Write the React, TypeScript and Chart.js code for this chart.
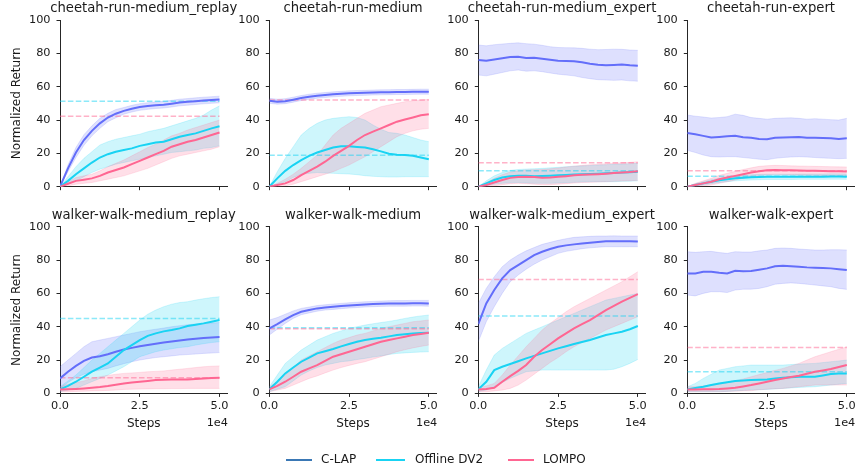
import React, { useEffect, useRef } from "react";
import { Chart, registerables } from "chart.js";

Chart.register(...registerables);

// ---------------- data ----------------
const STEPS = [0, 0.25, 0.5, 0.75, 1, 1.25, 1.5, 1.75, 2, 2.25, 2.5, 2.75, 3, 3.25, 3.5, 3.75, 4, 4.25, 4.5, 4.75, 5];
const X_TICKS = [0, 2.5, 5];
const Y_TICKS = [0, 20, 40, 60, 80, 100];
const METHODS = ["C-LAP", "Offline DV2", "LOMPO"];
const TITLES = [
  "cheetah-run-medium_replay",
  "cheetah-run-medium",
  "cheetah-run-medium_expert",
  "cheetah-run-expert",
  "walker-walk-medium_replay",
  "walker-walk-medium",
  "walker-walk-medium_expert",
  "walker-walk-expert",
];
// dashed reference levels per panel
const DV2_REF = [51.2, 18.8, 9.6, 6.2, 45, 39.4, 46.4, 13];
const LOMPO_REF = [42.2, 52, 14.4, 9.6, 9.4, 38.8, 68.4, 27.6];

// cheetah-run-medium_replay
const CRMR_CLAP = [0, 11, 20.5, 28, 33.5, 38, 41.5, 43.8, 45.5, 46.8, 47.8, 48.4, 48.9, 49.2, 49.8, 50.5, 50.9, 51.3, 51.7, 52, 52.3];
const CRMR_CLAP_LO = [0, 9, 17.5, 24.8, 30.5, 35, 39, 41.3, 43.5, 44.8, 45.8, 46.4, 46.9, 47.2, 47.8, 48.5, 48.9, 49.3, 49.7, 50, 50.3];
const CRMR_CLAP_HI = [0, 13, 23.5, 31.2, 36.5, 41, 44, 46.3, 47.5, 48.8, 49.8, 50.4, 50.9, 51.2, 51.8, 52.5, 52.9, 53.3, 53.7, 54, 54.3];
const CRMR_DV2 = [0, 3.5, 7.5, 11, 14.5, 17.5, 19.5, 21, 22, 23, 24.5, 25.5, 26.5, 27, 28.5, 30, 31, 32, 33.5, 35, 36.3];
const CRMR_DV2_LO = [0, 1.5, 3.5, 6, 8.5, 10.5, 12, 13.5, 14.5, 15.5, 16.5, 17.5, 18.5, 19.5, 20.5, 21, 21.5, 22, 23, 23.5, 24.5];
const CRMR_DV2_HI = [0, 6, 12, 17, 21, 25, 27, 28.5, 29.5, 30.5, 31.5, 33, 34, 35, 36.5, 38, 39.5, 41, 43, 46, 48.5];
const CRMR_LOMPO = [0, 1.8, 3.5, 4.2, 5, 6.5, 8.5, 10, 11.5, 13.5, 15.5, 17.5, 19.5, 21.5, 24, 25.5, 27, 28, 29.5, 31, 32.5];
const CRMR_LOMPO_LO = [0, 0.5, 1.5, 2, 2.5, 3.5, 4.5, 5.5, 6.5, 8, 9.5, 11, 13, 15, 17, 18.5, 19.5, 20.5, 21.5, 22.5, 24];
const CRMR_LOMPO_HI = [0, 3, 5.5, 6.5, 7.5, 9.5, 12, 14, 16, 18.5, 21, 23.5, 25.5, 28, 30.5, 32, 34, 35.5, 37, 38.5, 40];

// cheetah-run-medium
const CRM_CLAP = [51.5, 51, 51.3, 52.2, 53.2, 54, 54.6, 55, 55.4, 55.7, 56, 56.2, 56.3, 56.5, 56.6, 56.7, 56.8, 56.8, 56.9, 57, 57];
const CRM_CLAP_LO = [50, 49.5, 49.8, 50.7, 51.7, 52.5, 53.1, 53.5, 53.9, 54.2, 54.5, 54.7, 54.8, 55, 55.1, 55.2, 55.3, 55.3, 55.4, 55.5, 55.5];
const CRM_CLAP_HI = [53, 52.5, 52.8, 53.7, 54.7, 55.5, 56.1, 56.5, 56.9, 57.2, 57.5, 57.7, 57.8, 58, 58.1, 58.2, 58.3, 58.3, 58.4, 58.5, 58.5];
const CRM_DV2 = [0, 5, 9.5, 13, 16, 18.5, 20.5, 22, 23.5, 24.3, 24.2, 23.8, 23.5, 22.5, 21.2, 19.8, 19.2, 19, 18.5, 17.5, 16.5];
const CRM_DV2_LO = [0, 1.5, 3, 5.5, 7.5, 8, 8.5, 8.2, 8, 7.8, 7.6, 7.2, 6.6, 6.2, 6, 5.8, 5.8, 6, 6, 6, 6];
const CRM_DV2_HI = [0, 9, 17, 24, 31, 35, 38, 40, 41, 41.5, 42, 41.5, 40, 37, 34.5, 32.5, 32, 31, 29.5, 28, 27];
const CRM_LOMPO = [0, 1, 2, 4, 7, 9.5, 12, 15, 18.5, 21.5, 24.5, 28, 31, 33, 35, 37, 39, 40.3, 41.5, 42.8, 43.5];
const CRM_LOMPO_LO = [0, 0, 0.5, 1.5, 3, 4.5, 6, 7.5, 9, 11, 13, 15.5, 18, 21, 24, 27, 30, 32, 33.5, 34.5, 35];
const CRM_LOMPO_HI = [0, 2, 4.5, 7.5, 11, 15, 19, 25, 31, 35, 38, 41, 44, 46, 48, 49, 50, 51, 51.6, 52, 52.4];

// cheetah-run-medium_expert
const CRME_CLAP = [76, 75.5, 76.3, 77, 77.8, 78, 77.2, 77.4, 76.8, 76.2, 75.6, 75.4, 75.2, 74.6, 73.8, 73.2, 72.8, 73, 73.3, 72.8, 72.5];
const CRME_CLAP_LO = [67, 66.5, 67.5, 68.5, 69.5, 70, 69.3, 69.5, 69, 68.2, 67.5, 67, 66.5, 65.5, 64.8, 64.2, 64, 63.8, 64, 63.5, 63.3];
const CRME_CLAP_HI = [85, 84.5, 85.2, 85.6, 86, 86.3, 85.8, 85.5, 84.8, 84, 83.5, 83.4, 83.3, 83, 82.5, 82.2, 82.3, 82.5, 82.4, 82, 81.8];
const CRME_DV2 = [0, 2, 4, 5.5, 6.3, 6.5, 6.5, 6.3, 6.4, 6.6, 6.8, 7, 7.3, 7.5, 7.6, 7.8, 8, 8.2, 8.5, 8.7, 9];
const CRME_DV2_LO = [0, 0.5, 1.5, 2, 2.3, 2.5, 2.2, 2, 2, 2, 2.2, 2.4, 2.6, 2.8, 3, 3, 3, 3, 3.2, 3.3, 3.5];
const CRME_DV2_HI = [0, 3.5, 6.5, 8.5, 9.8, 10.3, 10.6, 10.8, 11, 11.3, 11.6, 12, 12.3, 12.5, 12.7, 13, 13.2, 13.4, 13.6, 13.8, 14];
const CRME_LOMPO = [0, 1, 2.5, 4, 5.3, 5.8, 6, 5.8, 5.4, 5.5, 5.9, 6.3, 6.8, 7.2, 7.3, 7.5, 7.8, 8.2, 8.5, 8.8, 9.3];
const CRME_LOMPO_LO = [0, 0, 0.5, 1.2, 1.8, 2, 1.8, 1.5, 1.2, 1.2, 1.5, 1.8, 2.2, 2.5, 2.6, 2.8, 3, 3.2, 3.4, 3.6, 3.8];
const CRME_LOMPO_HI = [0, 2.5, 5, 7.2, 8.8, 9.5, 10, 10.2, 10.3, 10.7, 11.2, 11.8, 12.3, 12.8, 13.2, 13.5, 13.8, 14, 14.3, 14.6, 15];

// cheetah-run-expert
const CRE_CLAP = [32.2, 31.5, 30.5, 29.5, 29.8, 30.2, 30.5, 29.6, 29.3, 28.6, 28.4, 29.3, 29.5, 29.7, 29.8, 29.4, 29.3, 29.2, 29, 28.6, 29];
const CRE_CLAP_LO = [21.8, 20.5, 19, 18, 17.8, 18, 18, 17.5, 17, 16.5, 16.2, 17, 17.5, 17.8, 18, 17.8, 17.5, 17.2, 17, 16.8, 17];
const CRE_CLAP_HI = [43, 42.3, 41.8, 41.2, 41.5, 42, 43.5, 42.8, 41.5, 41, 40.5, 41, 41.2, 41.3, 41, 40.5, 40.8, 40.5, 40.2, 40, 41];
const CRE_DV2 = [0, 1, 2, 3, 3.8, 4.4, 5, 5.4, 5.6, 5.8, 5.9, 5.9, 5.9, 5.9, 6, 6, 6, 6, 6.1, 6.1, 6];
const CRE_DV2_LO = [0, 0.3, 1, 1.8, 2.5, 3, 3.5, 3.8, 4, 4.2, 4.3, 4.3, 4.3, 4.3, 4.4, 4.4, 4.4, 4.4, 4.5, 4.5, 4.4];
const CRE_DV2_HI = [0, 1.8, 3, 4.2, 5.2, 5.8, 6.4, 6.9, 7.2, 7.4, 7.5, 7.5, 7.5, 7.5, 7.6, 7.6, 7.6, 7.6, 7.7, 7.7, 7.6];
const CRE_LOMPO = [0, 1, 2, 3, 4.5, 5.5, 6.5, 7.5, 8.5, 9.3, 9.8, 10, 9.9, 9.8, 9.7, 9.6, 9.5, 9.4, 9.3, 9.2, 9.1];
const CRE_LOMPO_LO = [0, 0, 0.5, 1, 2, 3, 4, 5, 6, 6.8, 7.2, 7.4, 7.3, 7.2, 7, 6.9, 6.8, 6.7, 6.6, 6.5, 6.4];
const CRE_LOMPO_HI = [0, 2, 3.5, 5, 6.8, 8, 9.2, 10.3, 11.3, 12.2, 12.6, 12.8, 12.7, 12.5, 12.4, 12.3, 12.2, 12.1, 12, 11.9, 11.8];

// walker-walk-medium_replay
const WWMR_CLAP = [9, 13, 16.5, 19.5, 21.5, 22.3, 23.5, 25, 26.3, 27.3, 28.3, 29, 29.8, 30.5, 31.2, 31.8, 32.3, 32.8, 33.3, 33.6, 33.8];
const WWMR_CLAP_LO = [3, 6.5, 9.5, 11.5, 13, 14, 15, 16.5, 17.8, 19, 20, 20.8, 21.5, 22, 22.5, 23, 23.3, 23.6, 24, 24.2, 24.5];
const WWMR_CLAP_HI = [16, 20, 24, 28, 31, 32, 33, 34, 35, 36, 37, 37.8, 38.5, 39.2, 40, 40.6, 41.2, 41.6, 42, 42.2, 42.5];
const WWMR_DV2 = [2.4, 4.5, 7, 10, 13, 15.5, 18, 22, 26, 29, 32, 34.5, 36, 37.2, 38, 39, 40.4, 41.2, 42, 43, 44];
const WWMR_DV2_LO = [1, 2, 3, 5, 7, 9, 11, 13.5, 16, 19, 22, 23.5, 25, 26, 26.8, 27.5, 28, 29, 29.8, 30.5, 31];
const WWMR_DV2_HI = [4, 7.5, 11, 15.5, 20, 24, 28, 32, 36, 40, 44, 47.5, 50, 52, 53.5, 54.5, 55, 56, 56.8, 57.5, 58];
const WWMR_LOMPO = [2.4, 2.5, 2.7, 3, 3.4, 3.8, 4.4, 5.2, 6, 6.5, 7, 7.5, 8, 8.2, 8.3, 8.4, 8.4, 8.7, 9, 9.3, 9.4];
const WWMR_LOMPO_LO = [1, 1, 1.2, 1.3, 1.5, 1.6, 1.8, 2, 2.4, 2.5, 2.6, 2.7, 2.8, 2.8, 2.9, 2.9, 3, 3, 3, 3, 3];
const WWMR_LOMPO_HI = [4, 5.5, 6.5, 7.5, 9, 10, 10.8, 11.5, 12, 12.3, 12.6, 13, 13.2, 13.5, 14, 14.5, 15, 15.5, 16, 16.3, 16.5];

// walker-walk-medium
const WWM_CLAP = [39, 41.6, 44.4, 47, 49, 50, 51, 51.6, 52, 52.4, 52.8, 53.1, 53.4, 53.6, 53.8, 54, 54, 54, 54.1, 54.1, 54];
const WWM_CLAP_LO = [35, 38.5, 42, 45, 47.2, 48.3, 49.3, 50, 50.4, 50.8, 51.2, 51.5, 51.8, 52, 52.2, 52.3, 52.3, 52.3, 52.4, 52.4, 52.3];
const WWM_CLAP_HI = [44, 45.5, 47.5, 49.5, 51, 51.8, 52.7, 53.2, 53.6, 54, 54.4, 54.7, 55, 55.2, 55.4, 55.6, 55.7, 55.7, 55.8, 55.8, 55.8];
const WWM_DV2 = [2.4, 7, 12, 15.5, 19, 21.5, 24, 25.3, 26.6, 28.2, 29.6, 31, 32, 32.8, 33.4, 34.2, 35, 35.5, 36, 36.2, 36.4];
const WWM_DV2_LO = [1, 2.5, 4, 7.5, 11, 13.5, 15.5, 17, 18, 19, 19.5, 20.3, 21, 21.8, 22.5, 23.3, 24, 24.3, 24.6, 24.8, 25];
const WWM_DV2_HI = [4, 11, 18, 22, 26, 29, 32, 34, 36, 37.5, 39, 40, 41, 41.8, 42.5, 43.2, 44, 45, 45.8, 46.5, 47];
const WWM_LOMPO = [2.4, 4.5, 7, 10, 13, 15, 17, 19.5, 22, 23.5, 25, 26.5, 28, 29.5, 31, 32, 33, 34, 35, 35.7, 36.4];
const WWM_LOMPO_LO = [1, 2, 3, 5, 7, 9, 10.5, 12.3, 14, 15.5, 16.8, 18, 19, 20.5, 22, 23.5, 25, 26.2, 27.3, 28.2, 29];
const WWM_LOMPO_HI = [4, 7, 11, 15.5, 20, 22.5, 25, 27.5, 30, 32, 33.5, 35, 36, 37.5, 39, 40, 41, 42, 43, 43.5, 44];

// walker-walk-medium_expert
const WWME_CLAP = [41.6, 54, 62, 69, 74, 77, 80, 83, 85, 86.6, 88, 88.8, 89.4, 89.9, 90.4, 90.8, 91.2, 91.2, 91.2, 91.2, 91.1];
const WWME_CLAP_LO = [31, 43, 52, 60, 67, 71, 74.5, 77.5, 80, 82, 84, 85.2, 86, 86.8, 87.3, 87.7, 88, 88, 88, 88, 88];
const WWME_CLAP_HI = [54, 63, 70, 76, 80, 83, 85.5, 87.5, 89.4, 90.6, 91.8, 92.8, 93.6, 93.9, 94.2, 94.4, 94.4, 94.5, 94.4, 94.4, 94.4];
const WWME_DV2 = [2.4, 7, 14, 16, 17.6, 19.3, 21, 22.5, 24, 25.5, 27, 28.3, 29.6, 30.8, 32, 33.5, 35, 36, 37, 38.5, 40.4];
const WWME_DV2_LO = [1, 2, 4, 6.5, 9, 11, 13, 13.5, 14, 14, 14, 14, 14, 14, 14, 14, 14, 14.5, 16, 18, 20.4];
const WWME_DV2_HI = [4, 14, 23, 27, 30, 33, 36, 38, 40, 42, 44, 46, 48, 50, 52, 54, 56, 57, 58, 59, 60];
const WWME_LOMPO = [2.4, 2.6, 3.4, 7, 10.4, 13.5, 17, 22, 26, 29.5, 33, 36, 39, 41.5, 44, 47, 50, 52.5, 55, 57.3, 59.6];
const WWME_LOMPO_LO = [1, 1, 1.5, 2, 3, 5, 8, 11.5, 15, 18.5, 21.5, 25, 28, 30.5, 33, 35.5, 38, 40, 42, 44, 46];
const WWME_LOMPO_HI = [4, 4.5, 6, 11, 17, 22.5, 28, 33, 38, 42, 45.5, 49, 52, 54.5, 57, 59.5, 62, 64.5, 67, 70, 73];

// walker-walk-expert
const WWE_CLAP = [72, 72, 73, 73, 72.4, 72, 73.6, 73.3, 73.4, 74.2, 75, 76.3, 76.6, 76.3, 76, 75.6, 75.4, 75.2, 75, 74.5, 74];
const WWE_CLAP_LO = [59, 58.5, 60, 61, 61, 60.5, 62, 62.5, 62.5, 63, 64, 65.5, 66, 66.3, 66, 65.5, 65, 64.5, 64, 63, 62.4];
const WWE_CLAP_HI = [85, 84.6, 85, 85.2, 84.5, 84, 85, 84.8, 84.8, 85.5, 86, 87, 87.2, 87, 86.6, 86.3, 86, 86, 86.2, 86.2, 86];
const WWE_DV2 = [2.4, 3.2, 4, 5, 6, 6.7, 7.4, 7.8, 8, 8.2, 8.4, 8.9, 9.4, 9.7, 10, 10, 10, 10.8, 11.6, 12, 12];
const WWE_DV2_LO = [1, 1, 1, 1, 1, 1.2, 1.5, 1.8, 2, 2.2, 2.4, 2.7, 3, 3.3, 3.6, 3.8, 4, 4.5, 5, 5.5, 6];
const WWE_DV2_HI = [4, 6, 9, 11.5, 14, 15, 16, 16.5, 17, 17, 17, 17, 17, 17.3, 17.6, 17.8, 18, 18.5, 19, 19.5, 20];
const WWE_LOMPO = [2.4, 2.4, 2.5, 2.5, 2.6, 3, 3.4, 4.2, 5, 6, 7, 8, 9, 9.8, 10.6, 11.8, 13, 13.8, 14.6, 15.8, 17];
const WWE_LOMPO_LO = [1, 1, 1, 1, 1, 1.2, 1.3, 1.5, 1.6, 2.2, 2.5, 2.8, 3, 3.5, 4, 4.5, 5, 5, 5, 5, 5];
const WWE_LOMPO_HI = [4, 4, 4.5, 5, 5.5, 6.5, 7.5, 8.7, 10, 11.3, 12.5, 13.8, 15, 16.5, 18, 20, 22, 23.5, 25, 26.5, 28];

const PANELS = [
  { clap: [CRMR_CLAP, CRMR_CLAP_LO, CRMR_CLAP_HI], dv2: [CRMR_DV2, CRMR_DV2_LO, CRMR_DV2_HI], lompo: [CRMR_LOMPO, CRMR_LOMPO_LO, CRMR_LOMPO_HI] },
  { clap: [CRM_CLAP, CRM_CLAP_LO, CRM_CLAP_HI], dv2: [CRM_DV2, CRM_DV2_LO, CRM_DV2_HI], lompo: [CRM_LOMPO, CRM_LOMPO_LO, CRM_LOMPO_HI] },
  { clap: [CRME_CLAP, CRME_CLAP_LO, CRME_CLAP_HI], dv2: [CRME_DV2, CRME_DV2_LO, CRME_DV2_HI], lompo: [CRME_LOMPO, CRME_LOMPO_LO, CRME_LOMPO_HI] },
  { clap: [CRE_CLAP, CRE_CLAP_LO, CRE_CLAP_HI], dv2: [CRE_DV2, CRE_DV2_LO, CRE_DV2_HI], lompo: [CRE_LOMPO, CRE_LOMPO_LO, CRE_LOMPO_HI] },
  { clap: [WWMR_CLAP, WWMR_CLAP_LO, WWMR_CLAP_HI], dv2: [WWMR_DV2, WWMR_DV2_LO, WWMR_DV2_HI], lompo: [WWMR_LOMPO, WWMR_LOMPO_LO, WWMR_LOMPO_HI] },
  { clap: [WWM_CLAP, WWM_CLAP_LO, WWM_CLAP_HI], dv2: [WWM_DV2, WWM_DV2_LO, WWM_DV2_HI], lompo: [WWM_LOMPO, WWM_LOMPO_LO, WWM_LOMPO_HI] },
  { clap: [WWME_CLAP, WWME_CLAP_LO, WWME_CLAP_HI], dv2: [WWME_DV2, WWME_DV2_LO, WWME_DV2_HI], lompo: [WWME_LOMPO, WWME_LOMPO_LO, WWME_LOMPO_HI] },
  { clap: [WWE_CLAP, WWE_CLAP_LO, WWE_CLAP_HI], dv2: [WWE_DV2, WWE_DV2_LO, WWE_DV2_HI], lompo: [WWE_LOMPO, WWE_LOMPO_LO, WWE_LOMPO_HI] },
];

// ---------------- style ----------------
const FONT = '"DejaVu Sans", sans-serif';
const TEXT = "#1a1a1a";
const AXIS = "#262626";
const RGB_CLAP = "99,110,250";
const RGB_DV2 = "25,211,243";
const RGB_LOMPO = "255,102,146";
const LEGEND_CLAP = "#3a78b5";

const AREA_L = [60, 269.3, 478.3, 687.3];
const AREA_W = 167.5;
const ROW_TOP = [20, 226.7];
const AREA_H = 166.7;
const CANVAS_TOP = [0, 206];
const CANVAS_H = [200, 240];
const X_MAX = 5.25;

const pts = (ys: number[]) => ys.map((y, i) => ({ x: STEPS[i], y }));

const panelText = {
  id: "panelText",
  afterDraw(chart: any, _args: any, opts: any) {
    const { ctx, chartArea } = chart;
    ctx.save();
    ctx.fillStyle = TEXT;
    ctx.font = `13.2px ${FONT}`;
    ctx.textAlign = "center";
    ctx.textBaseline = "alphabetic";
    ctx.fillText(opts.title, (chartArea.left + chartArea.right) / 2, chartArea.top - 8);
    if (opts.offset) {
      ctx.font = `11.3px ${FONT}`;
      ctx.textAlign = "right";
      ctx.textBaseline = "middle";
      ctx.fillText("1e4", chartArea.right + 0.5, chartArea.bottom + 29.5);
    }
    ctx.restore();
  },
};

function Panel({ idx }: { idx: number }) {
  const ref = useRef<HTMLCanvasElement | null>(null);
  const row = Math.floor(idx / 4);
  const col = idx % 4;
  const canvasLeft = col === 0 ? 0 : Math.floor(AREA_L[col]) - 52;
  const yW = AREA_L[col] - canvasLeft;
  const canvasW = Math.ceil(yW + AREA_W + 12);
  const canvasTop = CANVAS_TOP[row];
  const canvasH = CANVAS_H[row];
  const padTop = ROW_TOP[row] - canvasTop;
  const xH = canvasH - padTop - AREA_H;

  useEffect(() => {
    const p = PANELS[idx];
    const line = (rgb: string, ys: number[]) => ({
      data: pts(ys),
      borderColor: `rgb(${rgb})`,
      borderWidth: 2,
      pointRadius: 0,
      fill: false,
      tension: 0,
    });
    const dash = (rgb: string, v: number) => ({
      data: [{ x: STEPS[0], y: v }, { x: STEPS[STEPS.length - 1], y: v }],
      borderColor: `rgba(${rgb},0.5)`,
      borderWidth: 1.5,
      borderDash: [5.5, 2.4],
      pointRadius: 0,
      fill: false,
    });
    const lo = (rgb: string, ys: number[]) => ({
      data: pts(ys),
      borderColor: `rgba(${rgb},0.22)`,
      borderWidth: 0.8,
      pointRadius: 0,
      fill: false,
    });
    const hi = (rgb: string, ys: number[]) => ({
      data: pts(ys),
      borderColor: `rgba(${rgb},0.22)`,
      borderWidth: 0.8,
      backgroundColor: `rgba(${rgb},0.21)`,
      pointRadius: 0,
      fill: "-1",
    });

    const tickFont = { family: FONT, size: 11.3 };
    const chart = new Chart(ref.current as HTMLCanvasElement, {
      type: "line",
      data: {
        datasets: [
          line(RGB_LOMPO, p.lompo[0]),
          line(RGB_DV2, p.dv2[0]),
          line(RGB_CLAP, p.clap[0]),
          dash(RGB_LOMPO, LOMPO_REF[idx]),
          dash(RGB_DV2, DV2_REF[idx]),
          lo(RGB_LOMPO, p.lompo[1]),
          hi(RGB_LOMPO, p.lompo[2]),
          lo(RGB_DV2, p.dv2[1]),
          hi(RGB_DV2, p.dv2[2]),
          lo(RGB_CLAP, p.clap[1]),
          hi(RGB_CLAP, p.clap[2]),
        ] as any,
      },
      options: {
        animation: false,
        responsive: false,
        maintainAspectRatio: false,
        devicePixelRatio: 1,
        events: [],
        layout: { padding: { top: padTop, left: 0, bottom: 0, right: canvasW - yW - AREA_W } },
        plugins: {
          legend: { display: false },
          tooltip: { enabled: false },
          title: { display: false },
          panelText: { title: TITLES[idx], offset: row === 1 },
        } as any,
        scales: {
          x: {
            type: "linear",
            min: 0,
            max: X_MAX,
            afterBuildTicks: (s: any) => {
              s.ticks = X_TICKS.map((v) => ({ value: v }));
            },
            afterFit: (s: any) => {
              s.height = xH;
            },
            ticks: {
              display: row === 1,
              color: TEXT,
              font: tickFont,
              padding: 2,
              maxRotation: 0,
              autoSkip: false,
              callback: (v: any) => Number(v).toFixed(1),
            },
            grid: { drawOnChartArea: false, drawTicks: true, tickLength: 3.5, color: AXIS, lineWidth: 1 },
            border: { display: true, color: AXIS, width: 1 },
            title: {
              display: row === 1,
              text: "Steps",
              color: TEXT,
              font: { family: FONT, size: 12 },
              padding: { top: 0, bottom: canvasH - 7.2 - (424 - canvasTop) },
            },
          },
          y: {
            type: "linear",
            min: 0,
            max: 100,
            afterBuildTicks: (s: any) => {
              s.ticks = Y_TICKS.map((v) => ({ value: v }));
            },
            afterFit: (s: any) => {
              s.width = yW;
            },
            ticks: { color: TEXT, font: tickFont, padding: 6 },
            grid: { drawOnChartArea: false, drawTicks: true, tickLength: 3.5, color: AXIS, lineWidth: 1 },
            border: { display: true, color: AXIS, width: 1 },
            title: {
              display: col === 0,
              text: "Normalized Return",
              color: TEXT,
              font: { family: FONT, size: 12 },
              padding: { top: 9.5, bottom: 0 },
            },
          },
        },
      } as any,
      plugins: [panelText as any],
    });
    return () => chart.destroy();
  }, [idx]);

  return (
    <canvas
      ref={ref}
      width={canvasW}
      height={canvasH}
      style={{ position: "absolute", left: canvasLeft, top: canvasTop, width: canvasW, height: canvasH }}
    />
  );
}

const LEGEND_ITEMS = [
  { label: METHODS[0], color: LEGEND_CLAP, lineLeft: 286, lineW: 26, textLeft: 321 },
  { label: METHODS[1], color: `rgb(${RGB_DV2})`, lineLeft: 376, lineW: 29, textLeft: 415 },
  { label: METHODS[2], color: `rgb(${RGB_LOMPO})`, lineLeft: 508, lineW: 26, textLeft: 543 },
];

export default function App() {
  return (
    <div
      style={{
        position: "fixed",
        left: 0,
        top: 0,
        width: 857,
        height: 469,
        overflow: "hidden",
        background: "#fff",
        fontFamily: FONT,
      }}
    >
      {TITLES.map((_, i) => (
        <Panel key={i} idx={i} />
      ))}
      {LEGEND_ITEMS.map((it) => (
        <React.Fragment key={it.label}>
          <div
            style={{
              position: "absolute",
              left: it.lineLeft,
              top: 458.5,
              width: it.lineW,
              height: 2,
              background: it.color,
            }}
          />
          <div
            style={{
              position: "absolute",
              left: it.textLeft,
              top: 452,
              fontSize: 12,
              lineHeight: "15px",
              color: TEXT,
              whiteSpace: "nowrap",
            }}
          >
            {it.label}
          </div>
        </React.Fragment>
      ))}
    </div>
  );
}
